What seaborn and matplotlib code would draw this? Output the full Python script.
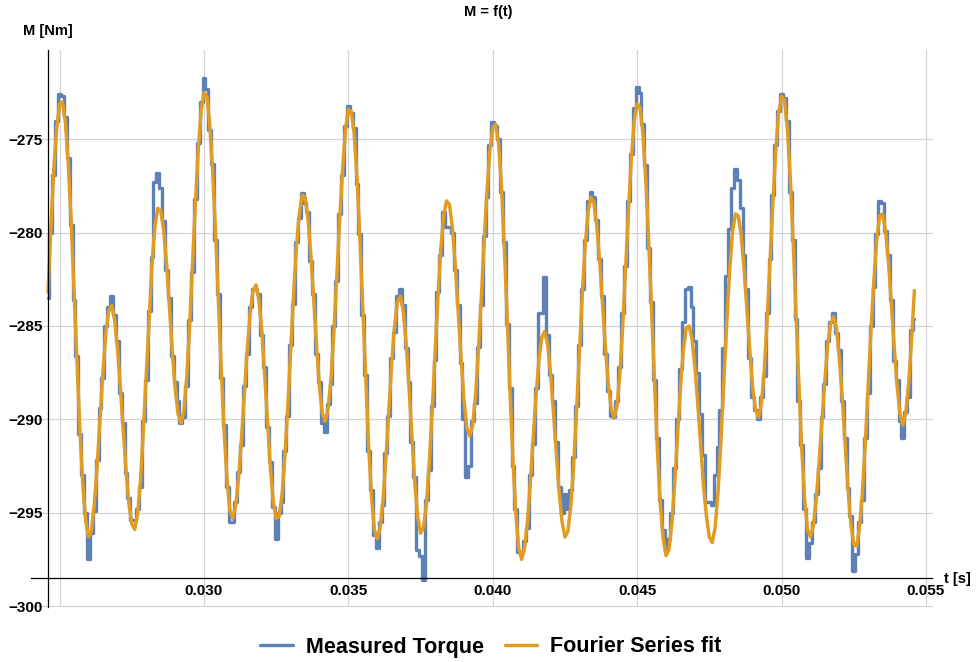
import numpy as np
import pandas as pd
import matplotlib
matplotlib.use("Agg")
import matplotlib.pyplot as plt
import seaborn as sns
from matplotlib.ticker import MultipleLocator, FuncFormatter

# Datos: muestras cada 0.1 ms desde t = 0.0246 s
t_start = 0.0246
t_step = 0.0001

# Par medido [Nm]
measured_torque = [
    -283.5, -280.0, -276.9, -274.0,
    -272.6, -272.7, -273.8, -276.0, -279.6, -283.6, -286.6, -290.8, -293.0, -295.0,
    -297.5, -296.1, -294.9, -292.2, -289.4, -287.8, -285.0, -284.0, -283.4, -284.4,
    -285.8, -288.6, -290.2, -292.9, -294.2, -295.4, -295.4, -294.8, -293.6, -290.1,
    -287.9, -284.2, -281.3, -277.3, -276.8, -277.6, -279.4, -282.0, -283.5, -286.6,
    -288.0, -289.0, -290.2, -289.9, -288.2, -284.7, -282.1, -278.2, -275.2, -273.0,
    -271.7, -272.3, -274.5, -276.3, -280.4, -283.3, -287.8, -290.3, -293.6, -295.5,
    -295.5, -294.4, -292.8, -291.4, -288.2, -286.5, -284.0, -283.0, -283.0, -283.3,
    -285.5, -287.2, -290.4, -292.3, -294.7, -296.4, -295.0, -294.4, -291.7, -289.8,
    -286.0, -283.8, -280.5, -279.2, -277.9, -278.4, -278.9, -281.5, -283.3, -286.5,
    -288.0, -290.2, -290.7, -289.2, -288.1, -285.0, -282.6, -279.0, -276.9, -274.3,
    -273.2, -273.6, -274.4, -277.4, -280.1, -284.4, -287.6, -291.7, -293.8, -296.2,
    -296.9, -295.5, -294.6, -291.8, -289.8, -286.7, -285.3, -283.4, -283.0, -283.9,
    -286.2, -288.0, -291.2, -293.1, -297.0, -297.3, -298.6, -294.3, -292.7, -289.3,
    -286.8, -283.2, -281.2, -278.9, -279.7, -279.7, -280.0, -282.0, -283.9, -287.0,
    -290.0, -293.1, -292.5, -290.1, -289.1, -286.1, -283.9, -280.2, -278.1, -275.3,
    -274.1, -274.3, -275.0, -277.8, -280.5, -284.9, -288.3, -292.5, -294.8, -297.1,
    -297.1, -296.5, -295.8, -293.0, -291.3, -288.3, -284.3, -284.3, -282.4, -285.5,
    -287.6, -289.0, -291.2, -293.6, -295.0, -294.0, -294.8, -293.8, -292.0, -289.3,
    -286.0, -283.0, -280.4, -278.3, -277.8, -278.1, -279.3, -281.4, -283.4, -286.5,
    -288.5, -289.8, -289.9, -289.0, -287.2, -284.3, -281.8, -278.3, -275.8, -273.3,
    -272.2, -272.5, -274.2, -276.4, -280.8, -283.7, -287.9, -291.0, -294.3, -295.9,
    -297.0, -296.4, -295.0, -292.6, -290.0, -287.3, -284.8, -283.0, -282.9, -284.0,
    -285.8, -287.5, -289.7, -291.9, -294.4, -294.4, -294.6, -293.0, -291.5, -289.5,
    -286.2, -282.3, -279.8, -277.6, -276.6, -277.2, -278.7, -281.2, -283.0, -286.7,
    -288.8, -289.5, -290.0, -288.8, -287.7, -284.3, -281.4, -278.0, -275.3, -273.5,
    -272.6, -272.8, -274.0, -277.8, -280.4, -284.6, -289.0, -291.4, -294.8, -297.4,
    -296.6, -295.5, -294.0, -292.6, -289.9, -288.1, -285.8, -284.8, -284.3, -285.4,
    -286.3, -289.0, -291.0, -293.7, -295.2, -298.1, -297.2, -295.5, -294.3, -291.0,
    -288.6, -285.0, -282.9, -280.1, -278.3, -278.4, -279.9, -281.2, -283.6, -286.9,
    -287.9, -290.1, -291.0, -289.6, -288.8, -285.2, -284.6,
]

# Ajuste por serie de Fourier [Nm]
fourier_fit = [
    -283.2, -279.7, -276.6, -274.4,
    -273.1, -273.0, -274.1, -276.3, -279.4, -283.1, -286.9, -290.5, -293.4, -295.4,
    -296.3, -296.0, -294.6, -292.5, -290.0, -287.5, -285.4, -284.2, -283.9, -284.6,
    -286.1, -288.2, -290.5, -292.7, -294.5, -295.6, -295.9, -295.1, -293.3, -290.6,
    -287.6, -284.5, -281.7, -279.7, -278.7, -278.8, -279.8, -281.6, -283.9, -286.3,
    -288.3, -289.7, -290.2, -289.6, -287.8, -285.1, -281.8, -278.5, -275.6, -273.5,
    -272.5, -272.7, -274.2, -276.7, -280.0, -283.7, -287.4, -290.7, -293.3, -294.9,
    -295.3, -294.6, -293.1, -291.0, -288.6, -286.2, -284.3, -283.1, -282.8, -283.6,
    -285.2, -287.6, -290.1, -292.6, -294.4, -295.3, -295.2, -294.1, -292.0, -289.4,
    -286.4, -283.4, -280.8, -279.0, -278.0, -278.1, -279.2, -281.2, -283.6, -286.1,
    -288.3, -289.7, -290.1, -289.4, -287.8, -285.3, -282.3, -279.3, -276.6, -274.5,
    -273.4, -273.5, -274.7, -277.1, -280.4, -284.1, -287.9, -291.4, -294.1, -295.9,
    -296.4, -295.8, -294.3, -292.1, -289.5, -287.0, -285.0, -283.7, -283.4, -284.2,
    -285.9, -288.3, -290.9, -293.4, -295.2, -296.1, -295.8, -294.6, -292.4, -289.6,
    -286.5, -283.5, -280.9, -279.1, -278.3, -278.5, -279.7, -281.7, -284.2, -286.7,
    -288.9, -290.4, -290.9, -290.4, -288.8, -286.4, -283.6, -280.5, -277.8, -275.6,
    -274.4, -274.2, -275.2, -277.5, -280.8, -284.6, -288.6, -292.2, -295.1, -296.9,
    -297.5, -296.9, -295.5, -293.4, -291.0, -288.7, -286.8, -285.6, -285.3, -286.0,
    -287.5, -289.6, -291.8, -293.9, -295.5, -296.3, -296.0, -294.7, -292.5, -289.6,
    -286.4, -283.3, -280.7, -278.9, -278.1, -278.4, -279.6, -281.5, -283.8, -286.1,
    -288.1, -289.4, -289.9, -289.3, -287.6, -285.0, -281.9, -278.8, -276.0, -274.0,
    -273.1, -273.3, -274.7, -277.2, -280.5, -284.2, -288.0, -291.6, -294.5, -296.4,
    -297.3, -297.0, -295.6, -293.4, -290.8, -288.3, -286.3, -285.1, -285.0, -285.7,
    -287.2, -289.2, -291.4, -293.6, -295.2, -296.3, -296.6, -295.8, -293.9, -291.2,
    -288.1, -284.9, -282.1, -280.0, -279.0, -279.1, -280.1, -281.9, -284.1, -286.3,
    -288.3, -289.5, -289.9, -289.2, -287.4, -284.7, -281.6, -278.4, -275.6, -273.6,
    -272.7, -272.9, -274.4, -277.0, -280.4, -284.3, -288.1, -291.6, -294.3, -295.9,
    -296.3, -295.7, -294.3, -292.3, -290.1, -287.9, -286.0, -284.9, -284.5, -285.1,
    -286.7, -288.8, -291.3, -293.7, -295.6, -296.7, -296.8, -295.8, -293.9, -291.3,
    -288.2, -285.1, -282.5, -280.3, -279.1, -279.0, -279.9, -281.5, -283.8, -286.1,
    -288.2, -289.7, -290.3, -289.7, -288.1, -285.8, -283.1,
]

t = t_start + t_step * np.arange(len(fourier_fit))
df = pd.DataFrame({"t": t, "measured": measured_torque, "fit": fourier_fit})

x_ticks_major = [0.025, 0.030, 0.035, 0.040, 0.045, 0.050, 0.055]
y_ticks_major = [-300, -295, -290, -285, -280, -275]

# Estilo
sns.set_style("white")
plt.rcParams["font.family"] = ["Liberation Sans", "DejaVu Sans"]
plt.rcParams["font.weight"] = "bold"
plt.rcParams["text.color"] = "black"
plt.rcParams["xtick.color"] = "black"
plt.rcParams["ytick.color"] = "black"

fig = plt.figure(figsize=(9.76, 6.62), dpi=100)
ax = fig.add_axes([31 / 976, 1 - 607 / 662, (932 - 31) / 976, (607 - 50) / 662])

sns.lineplot(data=df, x="t", y="measured", ax=ax, color="#5E81B5", lw=2.4,
             drawstyle="steps-mid", estimator=None, label="Measured Torque")
sns.lineplot(data=df, x="t", y="fit", ax=ax, color="#E19C24", lw=2.5,
             estimator=None, label="Fourier Series fit")

ax.set_xlim(0.02401, 0.05521)
ax.set_ylim(-300.05, -270.22)

# Ejes cruzados al estilo Mathematica
for s in ["top", "right"]:
    ax.spines[s].set_visible(False)
ax.spines["left"].set_position(("data", t_start))
ax.spines["bottom"].set_position(("data", -298.5))
for s in ["left", "bottom"]:
    ax.spines[s].set_color("black")
    ax.spines[s].set_linewidth(0.9)

ax.xaxis.set_major_locator(MultipleLocator(0.005))
ax.xaxis.set_minor_locator(MultipleLocator(0.001))
ax.yaxis.set_major_locator(MultipleLocator(5))
ax.yaxis.set_minor_locator(MultipleLocator(1))
ax.xaxis.set_major_formatter(FuncFormatter(lambda v, p: "" if abs(v - 0.025) < 1e-6 else f"{v:.3f}"))
ax.yaxis.set_major_formatter(FuncFormatter(lambda v, p: f"\u2212{abs(v):.0f}"))

ax.tick_params(which="major", direction="in", length=5, width=0.8, color="black",
               labelcolor="black", labelsize=11, pad=4)
ax.tick_params(which="minor", direction="in", length=2.6, width=0.7, color="black")
for lab in ax.get_xticklabels() + ax.get_yticklabels():
    lab.set_fontweight("bold")

# Rejilla
for xv in x_ticks_major:
    ax.axvline(xv, color="#d4d4d4", lw=0.9, zorder=0)
for yv in y_ticks_major:
    ax.axhline(yv, color="#d4d4d4", lw=0.9, zorder=0, clip_on=False)

ax.set_xlabel("")
ax.set_ylabel("")
fig.text(48 / 976, 1 - 31 / 662, "M [Nm]", ha="center", va="center",
         fontsize=10.5, fontweight="bold", color="black")
fig.text(944 / 976, 1 - 579 / 662, "t [s]", ha="left", va="center",
         fontsize=10.5, fontweight="bold", color="black")
fig.text(0.5, 1 - 12 / 662, "M = f(t)", ha="center", va="center",
         fontsize=10.5, fontweight="bold", color="black")

ax.legend(loc="center", bbox_to_anchor=(491 / 976, 1 - 647 / 662),
          bbox_transform=fig.transFigure, ncol=2, frameon=False,
          prop={"size": 15.5, "weight": "bold"}, handlelength=1.5,
          handletextpad=0.6, columnspacing=1.0, labelcolor="black")

fig.savefig("out.png", dpi=100)
